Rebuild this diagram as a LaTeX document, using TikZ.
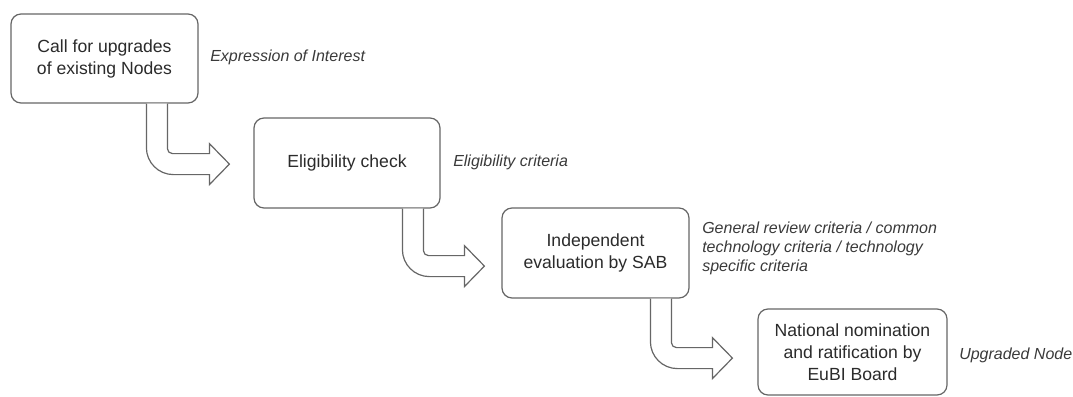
\documentclass[tikz,border=0pt]{standalone}
\usepackage{fontspec}
\setmainfont{Liberation Sans}
\usetikzlibrary{calc}
\definecolor{linegray}{HTML}{666666}
\definecolor{textgray}{HTML}{2b2b2b}
\definecolor{labelgray}{HTML}{3a3a3a}
\tikzset{
  stepbox/.style={draw=linegray, line width=0.9pt, rounded corners=7.5pt, fill=white,
    text=textgray, align=center, font=\fontsize{13.2pt}{16.5pt}\selectfont, inner sep=0pt},
  lbl/.style={anchor=west, text=labelgray, align=left,
    font=\fontsize{12pt}{14.25pt}\selectfont\itshape, inner sep=0pt},
  blockarrow/.style={draw=linegray, line width=0.9pt, fill=white, line join=miter},
}
% #1 source node, #2 x offset of shaft right edge from source south west,
% #3 shaft drop, #4 horizontal run before head
\newcommand\blockarr[4]{%
  \draw[blockarrow] ($(#1.south west)+(#2,0)$) -- ++(0,#3)
    arc[start angle=180,end angle=90,radius=5] -- ++(#4,0) -- ++(0,-10)
    -- ++(20,20.5) -- ++(-20,20.5) -- ++(0,-10) -- ++({-(#4-1)},0)
    arc[start angle=90,end angle=180,radius=27] -- ++(0,{-(#3-1)});}
\begin{document}
\begin{tikzpicture}[x=0.75pt,y=-0.75pt]
  \path[use as bounding box] (0,0) rectangle (1073,396);
  \node[stepbox, minimum width=140.25pt, minimum height=66.75pt] (b1) at (104.5,58.5)
    {Call for upgrades\\of existing Nodes};
  \node[stepbox, minimum width=139.5pt, minimum height=67.5pt] (b2) at (347,163)
    {Eligibility check};
  \node[stepbox, minimum width=140.25pt, minimum height=67.5pt] (b3) at (595.5,253)
    {Independent\\evaluation by SAB};
  \node[stepbox, minimum width=141.75pt, minimum height=64.5pt] (b4) at (852.5,352)
    {National nomination\\and ratification by\\EuBI Board};
  \blockarr{b1}{157}{45}{37}
  \blockarr{b2}{170}{42}{36}
  \blockarr{b3}{170}{44}{36}
  \node[lbl] (l1) at (210,57) {Expression of Interest};
  \node[lbl] (l2) at (453,162) {Eligibility criteria};
  \node[lbl] (l3) at (702,248) {General review criteria / common\\technology criteria / technology\\specific criteria};
  \node[lbl] (l4) at (959,355) {Upgraded Node};
\end{tikzpicture}
\end{document}
